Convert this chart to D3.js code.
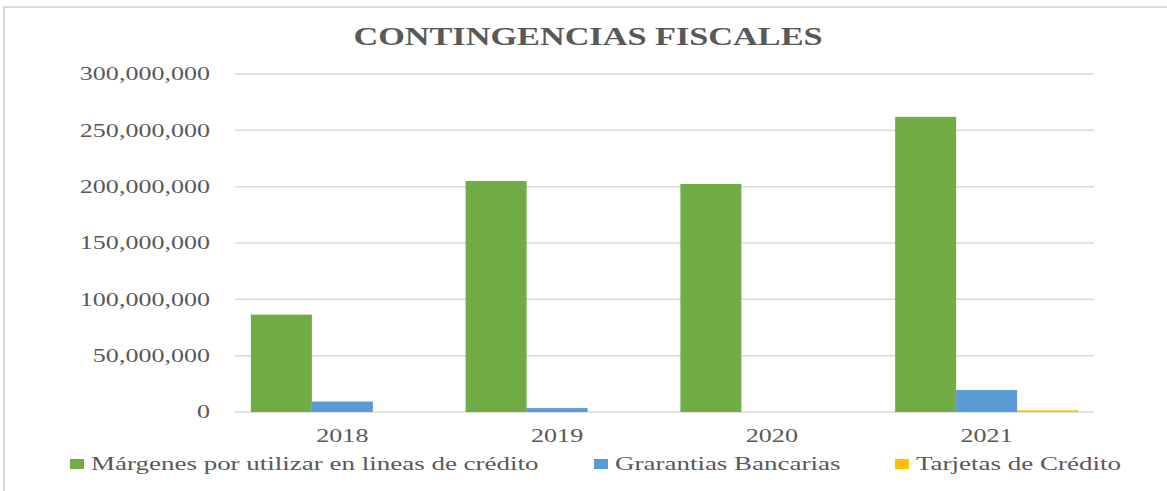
<!DOCTYPE html>
<html>
<head>
<meta charset="utf-8">
<script src="https://cdn.jsdelivr.net/npm/d3@7"></script>
<style>
    body { margin: 0; background: #fff; }
    text { font-family: "Liberation Serif", "Times New Roman", serif; fill: #595959; }
    .title { font-weight: bold; font-size: 25px; }
    .tick-label, .year-label, .legend-label { font-size: 19px; }
</style>
</head>
<body>
<svg id="chart" width="1167" height="491"></svg>
<script>
    const years = ["2018", "2019", "2020", "2021"];
    const seriesNames = [
        "Márgenes por utilizar en lineas de crédito",
        "Grarantias Bancarias",
        "Tarjetas de Crédito"
    ];
    const margenes = [86400000, 205000000, 202400000, 262000000];
    const garantias = [9300000, 3500000, 0, 19500000];
    const tarjetas = [0, 0, 0, 1500000];
    const yTicks = [0, 50000000, 100000000, 150000000, 200000000, 250000000, 300000000];
    const colors = ["#70AD47", "#5B9BD5", "#FFC000"];

    // glyphs in the source are stretched sideways
    function stretch(sel, sx) {
        sel.each(function () {
            const len = this.getComputedTextLength();
            d3.select(this).attr("textLength", len * sx).attr("lengthAdjust", "spacingAndGlyphs");
        });
    }

    const svg = d3.select("#chart");
    const plotLeft = 235, plotRight = 1094, plotTop = 74, plotBottom = 412;

    svg.append("rect")
        .attr("x", 4).attr("y", 7)
        .attr("width", 1180).attr("height", 500)
        .attr("fill", "none").attr("stroke", "#d9d9d9").attr("stroke-width", 2);

    svg.append("text").attr("class", "title")
        .attr("x", 588).attr("y", 45)
        .attr("text-anchor", "middle")
        .text("CONTINGENCIAS FISCALES")
        .call(stretch, 1.37);

    const y = d3.scaleLinear().domain([0, 300000000]).range([plotBottom, plotTop]);
    const x0 = d3.scaleBand().domain(years).range([plotLeft, plotRight])
        .paddingInner(0.148).paddingOuter(0.074);
    const x1 = d3.scaleBand().domain([0, 1, 2]).range([0, x0.bandwidth()]);

    const fmt = d3.format(",");
    svg.append("g").selectAll("line").data(yTicks).join("line")
        .attr("x1", plotLeft).attr("x2", plotRight)
        .attr("y1", d => y(d)).attr("y2", d => y(d))
        .attr("stroke", "#d9d9d9").attr("stroke-width", 1.5);

    svg.append("g").selectAll("text").data(yTicks).join("text")
        .attr("class", "tick-label")
        .attr("x", 210).attr("y", d => y(d)).attr("dy", "0.34em")
        .attr("text-anchor", "end")
        .text(d => fmt(d))
        .call(stretch, 1.37);

    const series = [margenes, garantias, tarjetas];
    const rows = [];
    years.forEach((yr, i) => series.forEach((s, k) => rows.push({ yr, k, v: s[i] })));

    svg.append("g").selectAll("rect").data(rows.filter(d => d.v > 0)).join("rect")
        .attr("x", d => x0(d.yr) + x1(d.k))
        .attr("width", x1.bandwidth())
        .attr("y", d => y(d.v))
        .attr("height", d => y(0) - y(d.v))
        .attr("fill", d => colors[d.k]);

    svg.append("g").selectAll("text").data(years).join("text")
        .attr("class", "year-label")
        .attr("x", d => x0(d) + x0.bandwidth() / 2).attr("y", 442)
        .attr("text-anchor", "middle")
        .text(d => d)
        .call(stretch, 1.37);

    const legendX = [70, 594, 895];
    const leg = svg.append("g").selectAll("g").data(seriesNames).join("g")
        .attr("transform", (d, i) => `translate(${legendX[i]},459)`);
    leg.append("rect").attr("width", 14).attr("height", 10).attr("fill", (d, i) => colors[i]);
    leg.append("text").attr("class", "legend-label")
        .attr("x", 21).attr("y", 11)
        .text(d => d)
        .call(stretch, 1.42);
</script>
</body>
</html>
